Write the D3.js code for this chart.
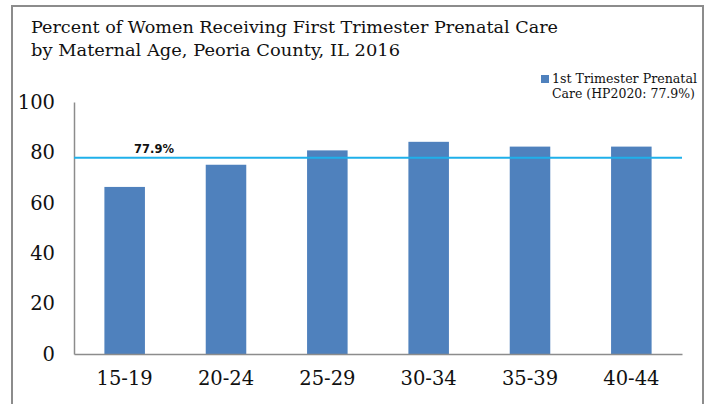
<!DOCTYPE html>
<html>
<head>
<meta charset="utf-8">
<script src="https://cdn.jsdelivr.net/npm/d3@7"></script>
<style>
  body { margin: 0; background: #fff; }
</style>
</head>
<body>
<svg id="chart" width="712" height="404"></svg>
<script>
const width = 712,
    height = 404;

const margin = {top: 102, right: 30, bottom: 50, left: 74};
const serif = "'DejaVu Serif', 'Liberation Serif', serif";

// data
const ageGroups = ["15-19", "20-24", "25-29", "30-34", "35-39", "40-44"];
const percentFirstTrimester = [66.3, 75.1, 80.8, 84.2, 82.3, 82.3];
const hp2020Target = 77.9;
const yTicks = [0, 20, 40, 60, 80, 100];
const titleLines = ["Percent of Women Receiving First Trimester Prenatal Care",
    "by Maternal Age, Peoria County, IL 2016"];
const legendLines = ["1st Trimester Prenatal", "Care (HP2020: 77.9%)"];

let svg = d3.select("#chart");

// outer frame
svg.append("rect")
    .attr("x", 12).attr("y", 6)
    .attr("width", 691).attr("height", 420)
    .attr("fill", "none")
    .attr("stroke", "#8c8c8c")
    .attr("stroke-width", 2);

// title
const titleWidths = [527, 369];
svg.append("g").selectAll("text").data(titleLines).enter().append("text")
    .attr("x", 31)
    .attr("y", (d, i) => 33 + i * 23)
    .style("font-family", serif)
    .style("font-size", "16.5px")
    .attr("fill", "#111")
    .attr("textLength", (d, i) => titleWidths[i])
    .attr("lengthAdjust", "spacingAndGlyphs")
    .text(d => d);

let plotW = 682 - margin.left,
    plotH = 354 - margin.top;

let x = d3.scaleBand().domain(ageGroups).range([0, plotW]).paddingInner(0.6).paddingOuter(0.3);
let y = d3.scaleLinear().domain([0, 100]).range([plotH, 0]);

let g = svg.append("g").attr("transform", `translate(${margin.left},${margin.top})`);

// bars
g.selectAll(".bar").data(percentFirstTrimester).enter().append("rect")
    .attr("class", "bar")
    .attr("x", (d, i) => x(ageGroups[i]))
    .attr("y", d => y(d))
    .attr("width", x.bandwidth())
    .attr("height", d => plotH - y(d))
    .attr("fill", "#4f81bd");

// y axis
let yAxis = g.append("g").call(d3.axisLeft(y).tickValues(yTicks).tickSize(0).tickPadding(19));
yAxis.select(".domain").attr("stroke", "#8c8c8c").attr("stroke-width", 1.5);
yAxis.selectAll("text")
    .style("font-family", serif)
    .style("font-size", "19.5px")
    .attr("fill", "#111");

// x axis
let xAxis = g.append("g").attr("transform", `translate(0,${plotH})`)
    .call(d3.axisBottom(x).tickSize(0).tickPadding(17));
xAxis.select(".domain").attr("stroke", "#8c8c8c").attr("stroke-width", 1.5);
xAxis.selectAll("text")
    .style("font-family", serif)
    .style("font-size", "19.5px")
    .attr("fill", "#111");

// HP2020 target line
g.append("line")
    .attr("x1", 0).attr("x2", plotW)
    .attr("y1", y(hp2020Target)).attr("y2", y(hp2020Target))
    .attr("stroke", "#1fb0ea")
    .attr("stroke-width", 2);

g.append("text")
    .attr("x", 80)
    .attr("y", y(hp2020Target) - 5)
    .attr("text-anchor", "middle")
    .style("font-family", "'DejaVu Sans', Verdana, sans-serif")
    .style("font-weight", "bold")
    .style("font-size", "11.5px")
    .attr("fill", "#111")
    .text(hp2020Target + "%");

// legend
let legend = svg.append("g");
legend.append("rect")
    .attr("x", 541).attr("y", 75)
    .attr("width", 8).attr("height", 8)
    .attr("fill", "#4f81bd");
const legendWidths = [145, 143];
legend.selectAll("text").data(legendLines).enter().append("text")
    .attr("x", 552)
    .attr("y", (d, i) => 83 + i * 15)
    .style("font-family", serif)
    .style("font-size", "12.5px")
    .attr("fill", "#111")
    .attr("textLength", (d, i) => legendWidths[i])
    .attr("lengthAdjust", "spacingAndGlyphs")
    .text(d => d);
</script>
</body>
</html>
